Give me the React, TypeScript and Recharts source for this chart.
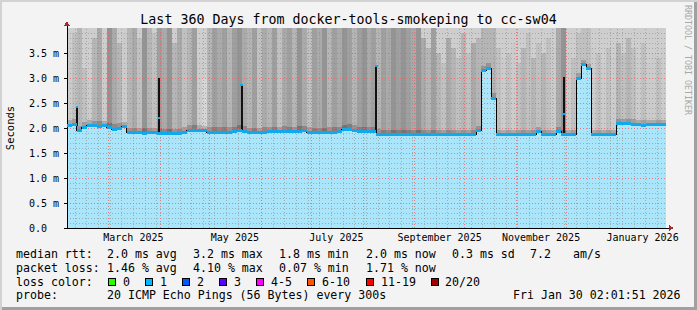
import { ComposedChart, Bar, Cell, Line, Scatter, XAxis, YAxis, ReferenceLine, ReferenceDot } from 'recharts';

const MONO = '"DejaVu Sans Mono", monospace';

// 3-day buckets, Tue Feb 4 2025 02:01 -> Fri Jan 30 2026 02:01 (360 days)
const medianRtt = [
  2.06, 2.08, 1.95, 2.02, 2.06, 2.05, 2.04, 2.05, 2.01, 1.98,
  2.00, 2.03, 1.91, 1.91, 1.91, 1.90, 1.91, 1.91, 1.90, 1.89,
  1.89, 1.89, 1.89, 1.92, 1.96, 1.96, 1.96, 1.95, 1.92, 1.92,
  1.92, 1.92, 1.92, 1.93, 1.96, 1.94, 1.91, 1.91, 1.91, 1.92,
  1.93, 1.93, 1.93, 1.94, 1.93, 1.93, 1.94, 1.95, 1.92, 1.91,
  1.91, 1.91, 1.92, 1.92, 1.93, 1.97, 1.98, 1.96, 1.93, 1.93,
  1.93, 1.93, 1.88, 1.87, 1.87, 1.87, 1.87, 1.87, 1.87, 1.87,
  1.87, 1.87, 1.87, 1.87, 1.87, 1.87, 1.87, 1.87, 1.87, 1.87,
  1.87, 1.87, 1.95, 3.15, 3.20, 2.60, 1.87, 1.87, 1.87, 1.87,
  1.87, 1.87, 1.87, 1.87, 1.93, 1.87, 1.87, 1.87, 1.93, 1.87,
  1.87, 1.87, 3.00, 3.27, 3.19, 1.87, 1.87, 1.87, 1.87, 1.87,
  2.09, 2.09, 2.09, 2.08, 2.07, 2.06, 2.07, 2.07, 2.07, 2.07,
];

// how dark the smoke is in each bucket (0 light .. 9 dark)
const smokeDensity = [
  1, 2, 3, 2, 1, 3, 4, 1, 6, 4,
  3, 1, 3, 4, 2, 6, 3, 2, 5, 4,
  6, 3, 4, 2, 3, 5, 1, 0, 3, 5,
  4, 5, 3, 5, 6, 4, 3, 5, 2, 4,
  3, 5, 2, 4, 5, 3, 6, 4, 2, 5,
  4, 6, 3, 5, 4, 6, 5, 3, 5, 6,
  4, 5, 3, 5, 4, 6, 5, 6, 5, 4,
  6, 4, 3, 5, 3, 2, 4, 3, 2, 3,
  2, 4, 3, 3, 3, 3, 2, 1, 2, 1,
  2, 3, 2, 3, 2, 3, 2, 1, 4, 6,
  1, 2, 2, 2, 2, 1, 2, 1, 2, 1,
  3, 2, 3, 2, 1, 2, 1, 1, 2, 1,
];

// upper edge of the dense smoke (ms); lighter haze above
const smokeTop = [
  3.6, 3.9, 4.0, 3.2, 3.0, 3.8, 4.0, 3.5, 4.0, 4.0,
  3.7, 3.9, 4.0, 4.0, 3.8, 4.0, 4.0, 3.9, 4.0, 4.0,
  4.0, 3.7, 4.0, 4.0, 4.0, 4.0, 3.4, 3.0, 4.0, 4.0,
  4.0, 4.0, 4.0, 4.0, 4.0, 4.0, 4.0, 4.0, 4.0, 4.0,
  4.0, 4.0, 4.0, 4.0, 4.0, 4.0, 4.0, 4.0, 4.0, 4.0,
  4.0, 4.0, 4.0, 4.0, 4.0, 4.0, 4.0, 4.0, 4.0, 4.0,
  4.0, 4.0, 4.0, 4.0, 4.0, 4.0, 4.0, 4.0, 4.0, 4.0,
  4.0, 3.8, 3.6, 4.0, 3.5, 3.3, 3.8, 3.6, 3.4, 3.9,
  3.5, 3.7, 3.8, 4.0, 4.0, 4.0, 3.6, 3.4, 3.5, 3.7,
  3.3, 3.6, 3.9, 3.4, 3.7, 3.5, 3.8, 3.6, 4.0, 4.0,
  3.5, 3.4, 3.9, 4.0, 4.0, 3.6, 3.5, 3.3, 3.6, 3.4,
  3.7, 3.5, 3.8, 3.6, 3.4, 3.7, 3.3, 3.5, 3.4, 3.6,
];

// single-sample median spikes
const spikeDays = [6.0, 55.3, 104.9, 186.0, 298.5];
const spikeBase = [2.05, 1.91, 1.94, 1.92, 1.87];
const spikeTop = [2.42, 3.0, 2.86, 3.24, 3.02];
const spikeDot = [2.42, 2.2, 2.86, 3.24, 2.28];

const monthLabelDays = [39.9, 100.9, 161.9, 223.9, 284.9, 345.9];
const monthLabels = ['March 2025', 'May 2025', 'July 2025', 'September 2025', 'November 2025', 'January 2026'];
const monthStartDays = [24.92, 55.92, 85.92, 116.92, 146.92, 177.92, 208.92, 238.92, 269.92, 299.92, 330.92];
const yTicks = [0, 0.5, 1, 1.5, 2, 2.5, 3, 3.5];

const lossLabels = ['0', '1', '2', '3', '4-5', '6-10', '11-19', '20/20'];
const lossColors = ['#26ff00', '#00b8ff', '#0059ff', '#5e00ff', '#ff00ff', '#ff5500', '#ff0000', '#a10000'];

const BUCKET_DAYS = 3;
const PLOT_W = 599;
const BW = PLOT_W / medianRtt.length;

const weekDays = Array.from({ length: 51 }, (_, k) => 4.92 + 7 * k);
const minorY = Array.from({ length: 39 }, (_, k) => (k + 1) / 10).filter((_, k) => (k + 1) % 5 !== 0);
const majorY = [0.5, 1, 1.5, 2, 2.5, 3, 3.5];

const gray = (d: number) => {
  const v = Math.max(80, Math.min(225, 214 - d * 11));
  return `rgb(${v},${v},${v})`;
};

const rows = medianRtt.map((m, i) => ({
  b: i,
  d: i * BUCKET_DAYS,
  median: m,
  band: 0.1,
  smoke: Math.max(0, smokeTop[i] - m - 0.1),
  haze: 4 - Math.max(smokeTop[i], m + 0.1),
  dens: smokeDensity[i],
}));

const YTick = (props: any) => {
  const { x, y, payload } = props;
  const v = payload.value as number;
  return (
    <g>
      <line x1={x - 3} x2={x} y1={y} y2={y} stroke="#000" />
      <text x={x - 20} y={y + 3.5} textAnchor="end" fontSize={10} fontFamily={MONO} fill="#000">{v.toFixed(1)}</text>
      {v > 0 && <text x={x - 14} y={y + 3.5} fontSize={10} fontFamily={MONO} fill="#000">m</text>}
    </g>
  );
};

const row1: [string, number][] = [['median rtt:', 16], ['2.0 ms avg', 107], ['3.2 ms max', 193], ['1.8 ms min', 279], ['2.0 ms now', 366], ['0.3 ms sd', 452], ['7.2', 530], ['am/s', 573]];
const row2: [string, number][] = [['packet loss:', 16], ['1.46 % avg', 107], ['4.10 % max', 193], ['0.07 % min', 279], ['1.71 % now', 366]];
const row4: [string, number][] = [['probe:', 16], ['20 ICMP Echo Pings (56 Bytes) every 300s', 107], ['Fri Jan 30 02:01:51 2026', 513]];
const swatchX = [108, 145, 182, 219, 256, 307, 366, 431];
const swatchLabelX = [123, 160, 197, 234, 271, 322, 381, 445];

export default function App() {
  return (
    <div style={{ position: 'absolute', left: 0, top: 0, width: 697, height: 310, background: '#f3f3f3', boxShadow: 'inset 2px 2px 0 #d2d2d2, inset -3px -3px 0 #a0a0a0' }}>
      <style>{'.recharts-surface { shape-rendering: crispEdges; }'}</style>
      <ComposedChart width={697} height={310} data={rows} margin={{ top: 28, right: 31, bottom: 62, left: 0 }} barCategoryGap={0} barGap={0}>
        <XAxis xAxisId="num" dataKey="d" type="number" domain={[0, 360]} ticks={monthLabelDays}
          height={20} axisLine={{ stroke: '#000' }} tickLine={false} tick={false} />
        <XAxis xAxisId="cat" dataKey="b" orientation="top" hide />
        <YAxis type="number" domain={[0, 4]} ticks={yTicks} width={67} tickSize={0} tickMargin={0}
          axisLine={{ stroke: '#000' }} tickLine={false} tick={<YTick />} allowDataOverflow />
        <Bar xAxisId="cat" dataKey="median" stackId="s" fill="#a9e5fb" isAnimationActive={false} />
        <Bar xAxisId="cat" dataKey="band" stackId="s" isAnimationActive={false}>
          {rows.map((r) => <Cell key={r.b} fill={gray(r.dens + 3)} />)}
        </Bar>
        <Bar xAxisId="cat" dataKey="smoke" stackId="s" isAnimationActive={false}>
          {rows.map((r) => <Cell key={r.b} fill={gray(r.dens)} />)}
        </Bar>
        <Bar xAxisId="cat" dataKey="haze" stackId="s" fill="#cecece" isAnimationActive={false} />
        {minorY.map((v) => <ReferenceLine key={'my' + v} xAxisId="num" y={v} stroke="#8c8c8c" strokeOpacity={0.6} strokeDasharray="1 2" />)}
        {weekDays.map((v) => <ReferenceLine key={'wk' + v} xAxisId="num" x={v} stroke="#8c8c8c" strokeOpacity={0.6} strokeDasharray="1 2" />)}
        {majorY.map((v) => <ReferenceLine key={'My' + v} xAxisId="num" y={v} stroke="#f06060" strokeOpacity={0.8} strokeDasharray="1 2" />)}
        {monthStartDays.map((v) => <ReferenceLine key={'mo' + v} xAxisId="num" x={v} stroke="#f06060" strokeOpacity={0.8} strokeDasharray="1 2" />)}
        <Line xAxisId="num" type="stepAfter" dataKey="median" stroke="#000" strokeWidth={1} dot={false} isAnimationActive={false} />
        <Scatter xAxisId="num" dataKey="median" isAnimationActive={false}
          shape={(p: any) => <rect x={p.cx} y={p.cy - 1.5} width={BW} height={3} fill="#12a8ec" />} />
        {spikeDays.map((d, i) => (
          <ReferenceLine key={'sp' + i} xAxisId="num" segment={[{ x: d, y: spikeBase[i] }, { x: d, y: spikeTop[i] }]} stroke="#111" strokeWidth={2} />
        ))}
        {spikeDays.map((d, i) => (
          <ReferenceDot key={'sd' + i} xAxisId="num" x={d} y={spikeDot[i]} r={1.5} fill="#12a8ec" stroke="none" />
        ))}
        {monthLabelDays.map((d, i) => (
          <ReferenceDot key={'ml' + i} xAxisId="num" x={d} y={0} r={0} ifOverflow="visible"
            shape={(p: any) => (
              <text x={p.cx} y={p.cy + 13} textAnchor="middle" fontSize={10} fontFamily={MONO} fill="#000">{monthLabels[i]}</text>
            )} />
        ))}
        <ReferenceDot xAxisId="num" x={0} y={4} r={0} ifOverflow="visible"
          shape={(p: any) => (
            <g>
              <line x1={p.cx} x2={p.cx} y1={p.cy} y2={p.cy - 3} stroke="#000" />
              <path d={`M${p.cx - 3},${p.cy - 2} L${p.cx + 3},${p.cy - 2} L${p.cx},${p.cy - 7} Z`} fill="#a52a2a" />
            </g>
          )} />
        <ReferenceDot xAxisId="num" x={360} y={0} r={0} ifOverflow="visible"
          shape={(p: any) => (
            <g>
              <line x1={p.cx} x2={p.cx + 3} y1={p.cy} y2={p.cy} stroke="#000" />
              <path d={`M${p.cx + 3},${p.cy - 3} L${p.cx + 3},${p.cy + 3} L${p.cx + 8},${p.cy} Z`} fill="#a52a2a" />
            </g>
          )} />
      </ComposedChart>
      <svg width={697} height={310} style={{ position: 'absolute', left: 0, top: 0, pointerEvents: 'none' }}>
        <text x={348.5} y={24} textAnchor="middle" fontSize={13.3} fontFamily={MONO} fill="#000">Last 360 Days from docker-tools-smokeping to cc-sw04</text>
        <text transform="translate(14,128) rotate(-90)" textAnchor="middle" fontSize={10.5} fontFamily={MONO} fill="#000">Seconds</text>
        <text transform="translate(685,60) rotate(90)" textAnchor="middle" fontSize={8.3} fontFamily={MONO} fill="#a8a8a8">RRDTOOL / TOBI OETIKER</text>
        {row1.map(([t, x]) => <text key={t + x} x={x} y={258} fontSize={11.6} fontFamily={MONO} fill="#000">{t}</text>)}
        {row2.map(([t, x]) => <text key={t + x} x={x} y={271.8} fontSize={11.6} fontFamily={MONO} fill="#000">{t}</text>)}
        <text x={16} y={285.6} fontSize={11.6} fontFamily={MONO} fill="#000">loss color:</text>
        {lossLabels.map((l, i) => (
          <g key={l}>
            <rect x={swatchX[i] + 0.5} y={278.5} width={7} height={7} fill={lossColors[i]} stroke="#000" />
            <text x={swatchLabelX[i]} y={285.6} fontSize={11.6} fontFamily={MONO} fill="#000">{l}</text>
          </g>
        ))}
        {row4.map(([t, x]) => <text key={t + x} x={x} y={299.4} fontSize={11.6} fontFamily={MONO} fill="#000">{t}</text>)}
      </svg>
    </div>
  );
}
